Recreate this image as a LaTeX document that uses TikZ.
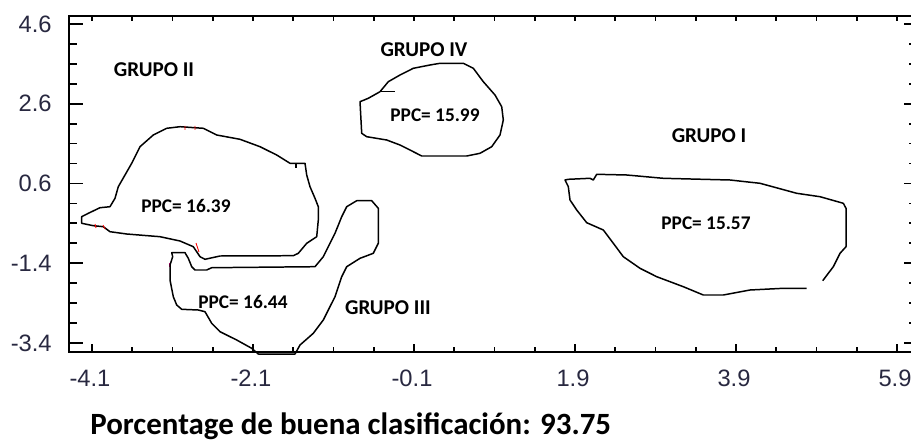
\documentclass[tikz,border=0pt]{standalone}
\usepackage{fontspec}
\setmainfont{Carlito}
\newfontfamily\axisfont{Liberation Sans}
\usetikzlibrary{positioning}
\definecolor{ticktext}{RGB}{40,40,64}

\begin{document}
\begin{tikzpicture}[
        x=0.02cm, y=-0.02cm,
        axis/.style={draw, line width=1pt},
        contour/.style={draw, line width=0.85pt, line join=round},
        grupo/.style={font=\fontsize{12}{14}\selectfont\bfseries, inner sep=0pt},
        ppc/.style={font=\fontsize{11}{13}\selectfont\bfseries, inner sep=0pt},
        ticklabel/.style={font=\axisfont\fontsize{13.5}{15}\selectfont, text=ticktext, inner sep=0pt}
    ]
    \useasboundingbox (0,0) rectangle (911,442);

    % Frame
    \draw[axis] (913,16) -- (69,16) -- (69,352) -- (913,352);

    % Ticks
    \foreach \i in {0,...,20} {
        \pgfmathsetmacro{\len}{ifthenelse(mod(\i,4)==0,8,5)}
        \draw[axis] ({92+40.25*\i},352) -- ++(0,-\len);
        \draw[axis] ({92+40.25*\i},16) -- ++(0,5);
    }
    \foreach \j in {0,...,16} {
        \pgfmathsetmacro{\len}{ifthenelse(mod(\j,4)==0,14,8)}
        \pgfmathsetmacro{\rlen}{ifthenelse(mod(\j,4)==0,7,2)}
        \draw[axis] (69,{343-19.94*\j}) -- ++(\len,0);
        \draw[axis] (911,{343-19.94*\j}) -- ++(-\rlen,0);
    }

    % Tick labels
    \foreach \v [count=\k from 0] in {-4.1,-2.1,-0.1,1.9,3.9,5.9}
        \node[ticklabel] (xl\k) at ({90+161*\k},378) {\v};
    \foreach \v [count=\k from 0] in {-3.4,-1.4,0.6,2.6,4.6}
        \node[ticklabel, anchor=east] (yl\k) at (52,{343-79.75*\k}) {\v};

    % Grupo II
    \draw[contour] (81.7,216.7) -- (81.7,223.3) -- (93.3,225.7) -- (103.3,226.7) -- (110,231.7)
        -- (126.7,234) -- (160,236.7) -- (180,241) -- (193.3,246.7) -- (200,256.7) -- (205,259.3)
        -- (220,256) -- (293.3,255.7) -- (298.3,253.3) -- (306.7,243.3) -- (316.7,236.7)
        -- (318.3,220) -- (318.3,206.7) -- (315,198.3) -- (310,186.7) -- (306.7,175) -- (305,163.3)
        -- (290,163.3) -- (276.7,155) -- (260,146.7) -- (240,139.3) -- (216.7,135) -- (203.3,128.3)
        -- (180,126.7) -- (166.7,128.3) -- (153.3,135) -- (140,146.7) -- (131.7,163.3)
        -- (118.3,186.7) -- (115,198.3) -- (110,206.7) -- (100,207.7) -- (88.3,213.3) -- cycle;
    \draw[contour] (296,163.3) -- (296,168);
    \draw[red, line width=0.5pt] (185,126) -- (185,130) (195,126) -- (195,130)
        (95,224) -- (96,228) (103,225) -- (105,229) (196,243) -- (199,252);
    \draw[magenta, line width=1pt] (169.5,263) -- (169.5,267);

    % Grupo III
    \draw[contour] (171.7,252.7) -- (185,252.7) -- (188.3,258.3) -- (191.7,266.7) -- (195,270)
        -- (206.7,270) -- (211.7,267.7) -- (315,266.7) -- (323.3,256.7) -- (330,243.3) -- (335,233.3)
        -- (341.7,216.7) -- (346.7,206.7) -- (356.7,200.7) -- (371.7,200.7) -- (378.3,208.3)
        -- (378.3,243.3) -- (373.3,253.3) -- (360,258.3) -- (346.7,266.7) -- (341.7,276.7)
        -- (335,296.7) -- (328.3,310) -- (323.3,320) -- (313.3,333.3) -- (300,345) -- (295,354)
        -- (258.3,354) -- (251.7,348.3) -- (236.7,340) -- (220,331.7) -- (211.7,323.3) -- (205,311.7)
        -- (198.3,310) -- (181.7,309.3) -- (176.7,305) -- (173.3,296.7) -- (170,280) -- (170,265)
        -- (172.7,256.7) -- cycle;

    % Grupo IV
    \draw[contour] (360,101.7) -- (361.7,133.3) -- (366.7,136.7) -- (386.7,140) -- (400,145)
        -- (410,150) -- (421.7,156) -- (466.7,156) -- (480,153.3) -- (491.7,146.7) -- (500,135)
        -- (503.3,120) -- (501.7,106.7) -- (495,95) -- (483.3,81.7) -- (473.3,68.3) -- (463.3,63.3)
        -- (440,63.3) -- (430,65) -- (413.3,68.3) -- (400,75) -- (388.3,81.7) -- (380,91.7)
        -- (368.3,98.3) -- cycle;
    \draw[contour] (380,91.7) -- (395,91.7);

    % Grupo I
    \draw[contour] (806.7,288.3) -- (783.3,288.3) -- (750,290) -- (723.3,295) -- (703.3,295)
        -- (683.3,286.7) -- (656.7,276.7) -- (640,268.3) -- (623.3,256.7) -- (613.3,243.3)
        -- (603.3,230) -- (586.7,222.7) -- (576.7,210) -- (570,200) -- (568.3,186.7) -- (565,180)
        -- (568.3,179.3) -- (590,178.3) -- (593.3,180) -- (596.7,174.3) -- (626.7,175)
        -- (663.3,178.3) -- (730,180) -- (760,183.3) -- (796.7,193.3) -- (820,196.7)
        -- (843.3,203.3) -- (846,208.3) -- (846,246.7) -- (840,253.3) -- (833.3,266.7) -- (822.7,280.7);

    % Labels
    \node[grupo] (grupoII) at (154,69.5) {GRUPO II};
    \node[grupo] (grupoIV) at (424,50) {GRUPO IV};
    \node[grupo] (grupoI) at (709,136) {GRUPO I};
    \node[grupo] (grupoIII) at (388,308) {GRUPO III};
    \node[ppc] (ppcII) at (186,206) {PPC= 16.39};
    \node[ppc] (ppcIII) at (243,302) {PPC= 16.44};
    \node[ppc] (ppcIV) at (435,115) {PPC= 15.99};
    \node[ppc] (ppcI) at (706,223) {PPC= 15.57};

    \node[font=\fontsize{17.6}{20}\selectfont\bfseries, inner sep=0pt, anchor=base west] (total)
        at (90,434) {Porcentage de buena clasificación: 93.75};
\end{tikzpicture}
\end{document}
